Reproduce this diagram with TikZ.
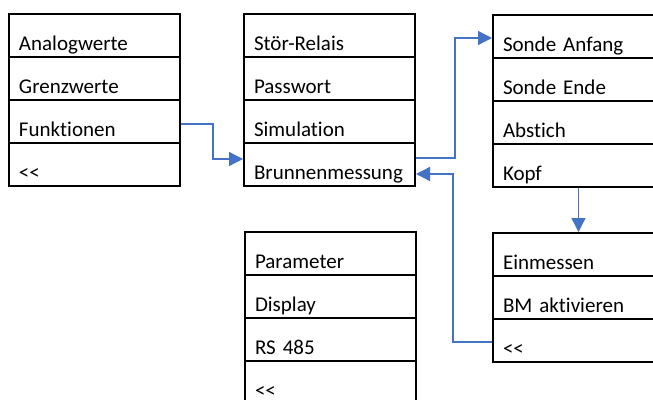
\documentclass[tikz,border=0pt]{standalone}
\usepackage{fontspec}
\setmainfont[Ligatures={NoCommon}]{Carlito}
\usetikzlibrary{arrows.meta}
\definecolor{arrblue}{HTML}{4472C4}
\newcommand{\backlt}{<{}<}
\tikzset{
  row/.style={draw=black, line width=2pt, rectangle, anchor=north west,
    inner xsep=10pt, inner ysep=0pt, text width=151pt, align=left,
    minimum height=43pt, text height=36pt, text depth=7pt,
    font=\fontsize{21}{25}\selectfont},
  arr/.style={draw=arrblue, line width=1.3pt, -{Triangle[length=14pt,width=14pt]}}
}
\begin{document}
\begin{tikzpicture}[x=1pt,y=-1pt]
\useasboundingbox (0,0) rectangle (653,399);
\clip (0,0) rectangle (653,399);
% box 1
\node[row] (b1r1) at (8,13) {Analogwerte};
\node[row] (b1r2) at (8,56) {Grenzwerte};
\node[row] (b1r3) at (8,99) {Funktionen};
\node[row] (b1r4) at (8,142) {\backlt};
% box 2
\node[row] (b2r1) at (243,13) {Stör-Relais};
\node[row] (b2r2) at (243,56) {Passwort};
\node[row] (b2r3) at (243,99) {Simulation};
\node[row] (b2r4) at (243,142) {Brunnenmessung};
% box 3
\node[row] (b3r1) at (492,14) {Sonde Anfang};
\node[row] (b3r2) at (492,57) {Sonde Ende};
\node[row] (b3r3) at (492,100) {Abstich};
\node[row] (b3r4) at (492,143) {Kopf};
% box 4
\node[row] (b4r1) at (244,231) {Parameter};
\node[row] (b4r2) at (244,274) {Display};
\node[row] (b4r3) at (244,317) {RS 485};
\node[row] (b4r4) at (244,360) {\backlt};
% box 5
\node[row] (b5r1) at (492,232) {Einmessen};
\node[row] (b5r2) at (492,275) {BM aktivieren};
\node[row] (b5r3) at (492,318) {\backlt};
% arrows
\draw[arr] ([yshift=-2.5pt]b1r3.east) -- ++(32,0) |- ([yshift=5.5pt]b2r4.west);
\draw[arr] ([yshift=6.5pt]b2r4.east) -- ++(39,0) |- ([yshift=-1.5pt]b3r1.west);
\draw[arr] ([yshift=-1.5pt]b5r3.west) -- ++(-39,0) |- ([yshift=-9.5pt]b2r4.east);
\draw[arr] (b3r4.south) -- (b5r1.north);
\end{tikzpicture}
\end{document}
